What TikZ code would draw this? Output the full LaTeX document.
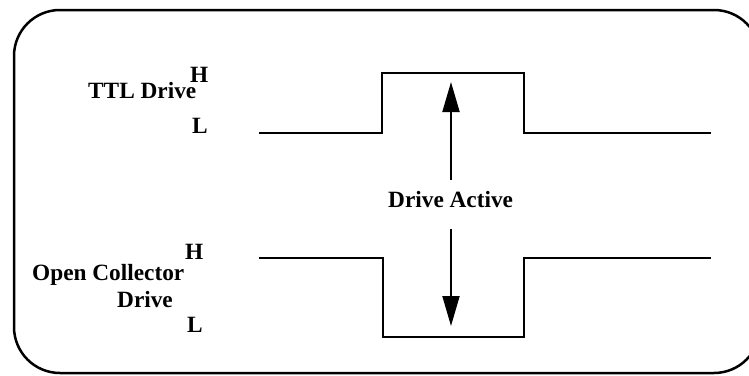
\documentclass[tikz,border=0pt]{standalone}
\usepackage{fontspec}
\setmainfont{Liberation Serif}
\usetikzlibrary{arrows.meta}
\begin{document}
\begin{tikzpicture}[x=1pt,y=-1pt,
  lbl/.style={font=\fontsize{23.3}{25}\selectfont\bfseries, inner sep=0pt, anchor=base west},
  wave/.style={line width=1.5pt, line join=miter},
  frame/.style={line width=2.5pt, rounded corners=46pt},
  activearrow/.style={line width=2pt, -{Triangle[length=30pt,width=17pt]}}]
\useasboundingbox (0,0) rectangle (749,375);
\begin{scope}
\clip (0,0) rectangle (749,375);
\draw[frame] (14,10) rectangle (760,373);
\end{scope}
% TTL waveform
\draw[wave] (259,133) -- (382,133) -- (382,73) -- (524,73) -- (524,133) -- (711,133);
% Open collector waveform
\draw[wave] (259,258) -- (383,258) -- (383,337) -- (524,337) -- (524,258) -- (711,258);
% labels
\node[lbl] (ttl) at (88,98) {TTL Drive};
\node[lbl] (h1) at (190,82) {H};
\node[lbl] (l1) at (192,133) {L};
\node[lbl] (oc) at (32,280) {Open Collector};
\node[lbl] (ocd) at (117,307) {Drive};
\node[lbl] (h2) at (185,259) {H};
\node[lbl] (l2) at (187,332) {L};
\node[lbl] (act) at (388,207) {Drive Active};
% arrows
\coordinate (uptip) at (451,82);
\coordinate (downtip) at (451,326);
\draw[activearrow] (451,180) -- (uptip);
\draw[activearrow] (451,229) -- (downtip);
\end{tikzpicture}
\end{document}
